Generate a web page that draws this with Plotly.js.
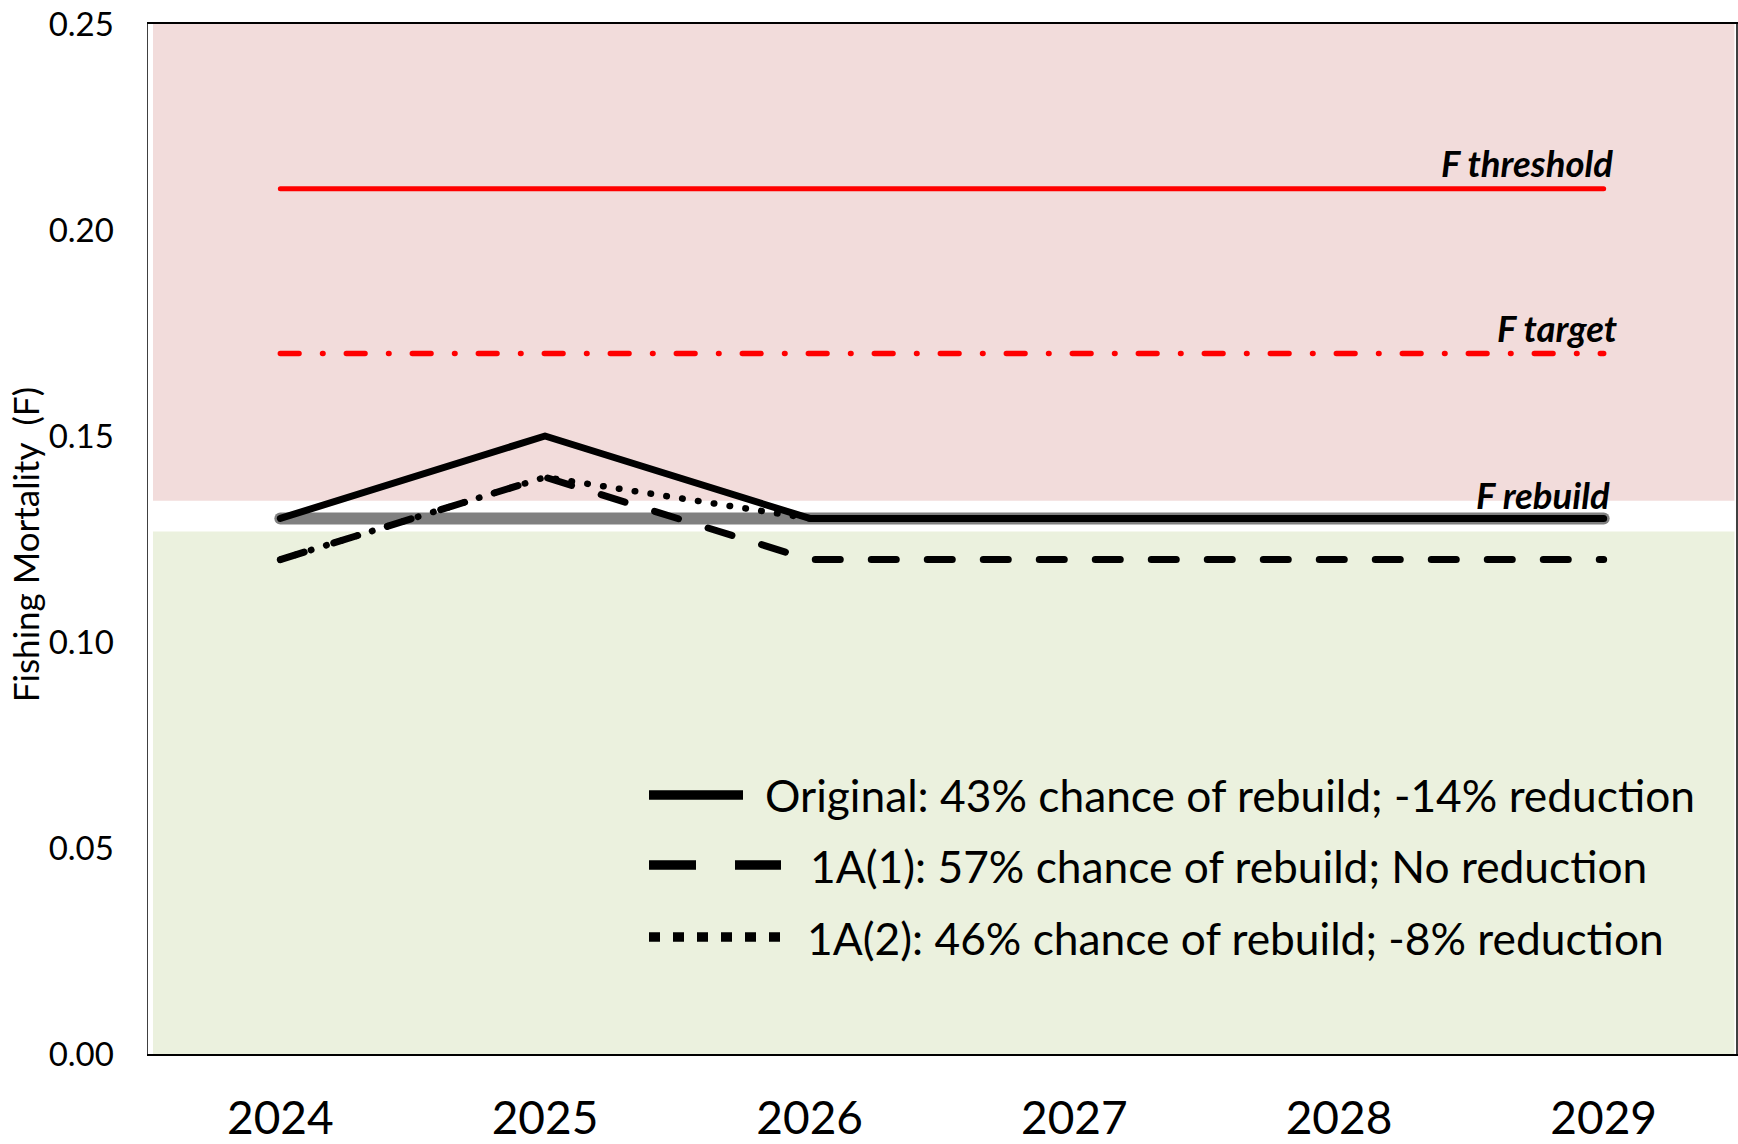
<!DOCTYPE html>
<html>
<head>
<meta charset="utf-8">
<script src="https://cdn.plot.ly/plotly-3.0.1.min.js"></script>
<style>
html,body{margin:0;padding:0;background:#ffffff;}
#chart{width:1738px;height:1144px;}
.scatterlayer .js-line{stroke-linecap:round !important;stroke-linejoin:round !important;}
</style>
</head>
<body>
<div id="chart"></div>
<script>
// ---- data ----
const years = ["2024", "2025", "2026", "2027", "2028", "2029"];
const original = [0.13, 0.15, 0.13, 0.13, 0.13, 0.13];
const alt1A1 = [0.12, 0.14, 0.12, 0.12, 0.12, 0.12];
const alt1A2 = [0.12, 0.14, 0.13, 0.13, 0.13, 0.13];
const fThreshold = [0.21, 0.21, 0.21, 0.21, 0.21, 0.21];
const fTarget = [0.17, 0.17, 0.17, 0.17, 0.17, 0.17];
const fRebuild = [0.13, 0.13, 0.13, 0.13, 0.13, 0.13];
const seriesNames = [
  "Original: 43% chance of rebuild; -14% reduction",
  "1A(1): 57% chance of rebuild; No reduction",
  "1A(2): 46% chance of rebuild; -8% reduction"
];
const refLabels = ["F threshold", "F target", "F rebuild"];
const overZone = [0.1343, 0.25];   // shaded band above F rebuild
const safeZone = [0, 0.1268];      // shaded band below F rebuild
const yTitle = "Fishing Mortality  (F)";

// ---- traces ----
const FONT = "Lato, 'Open Sans', sans-serif";
const traces = [
  {x: years, y: fRebuild, mode: "lines", line: {color: "#808080", width: 12}, hoverinfo: "skip"},
  {x: years, y: fThreshold, mode: "lines", line: {color: "#ff0000", width: 5}, name: refLabels[0]},
  {x: years, y: fTarget, mode: "lines", line: {color: "#ff0000", width: 5.5, dash: "18.7px,23.5px,0.5px,23.3px"}, name: refLabels[1]},
  {x: years, y: alt1A1, mode: "lines", line: {color: "#000000", width: 7, dash: "25px,31px"}, name: seriesNames[1]},
  {x: years, y: alt1A2, mode: "lines", line: {color: "#000000", width: 6.5, dash: "0.5px,15.5px"}, name: seriesNames[2]},
  {x: years, y: original, mode: "lines", line: {color: "#000000", width: 7}, name: seriesNames[0]}
];

// ---- layout helpers ----
const L = 148, T = 24, W = 1588, H = 1030;
const px2x = p => (p - L) / W;
const px2y = p => (T + H - p) / H;

const shapes = [
  {type: "rect", xref: "paper", yref: "y", x0: px2x(153), x1: 0.999, y0: overZone[0], y1: overZone[1],
   fillcolor: "#F2DCDB", line: {width: 0}, layer: "below"},
  {type: "rect", xref: "paper", yref: "y", x0: px2x(153), x1: 0.999, y0: safeZone[0], y1: safeZone[1],
   fillcolor: "#EBF1DE", line: {width: 0}, layer: "below"}
];

// manual legend (long line samples as in the original)
const legendRows = [
  {name: seriesNames[0], x1: 743, y: 795, tx: 763, dash: "solid"},
  {name: seriesNames[1], x1: 781, y: 865, tx: 808, dash: "47px,39px"},
  {name: seriesNames[2], x1: 781, y: 937, tx: 805, dash: "11px,13px"}
];
const annotations = [];
legendRows.forEach(r => {
  shapes.push({type: "line", xref: "paper", yref: "paper", x0: px2x(649), x1: px2x(r.x1), y0: px2y(r.y), y1: px2y(r.y),
    line: {color: "#000000", width: 9.5, dash: r.dash}});
  annotations.push({xref: "paper", yref: "paper", x: px2x(r.tx), y: px2y(r.y), xanchor: "left", yanchor: "middle",
    text: r.name, showarrow: false, font: {family: FONT, size: 44.3, color: "#000000"}});
});

// reference line labels (anchored at the last year's value)
const refVals = [fThreshold[5], fTarget[5], fRebuild[5]];
const refShift = [[11, 26], [15, 26], [8, 23]];
refLabels.forEach((t, i) => {
  annotations.push({xref: "x", yref: "y", x: years.length - 1, y: refVals[i], xanchor: "right", yanchor: "middle",
    xshift: refShift[i][0], yshift: refShift[i][1],
    text: "<b><i>" + t + "</i></b>", showarrow: false, font: {family: FONT, size: 36.5, color: "#000000"}});
});

// y title (overlaps tick labels like the original)
annotations.push({xref: "paper", yref: "paper", x: 0, xshift: -123, y: 0.494, textangle: -90,
  xanchor: "center", yanchor: "middle", text: yTitle, showarrow: false,
  font: {family: FONT, size: 35, color: "#000000"}});

const layout = {
  width: 1738, height: 1144,
  margin: {l: L, r: 1738 - L - W, t: T, b: 1144 - T - H},
  paper_bgcolor: "#ffffff", plot_bgcolor: "#ffffff",
  showlegend: false,
  xaxis: {type: "category", range: [-0.5, 5.5], showgrid: false, zeroline: false,
    showline: true, linecolor: "#000000", linewidth: 2, mirror: true,
    ticks: "outside", ticklen: 23, tickcolor: "rgba(0,0,0,0)",
    tickfont: {family: FONT, size: 46, color: "#000000"}},
  yaxis: {range: [0, 0.25], dtick: 0.05, tickformat: ".2f", showgrid: false, zeroline: false,
    showline: true, linecolor: "#404040", linewidth: 1.5, mirror: true,
    ticks: "outside", ticklen: 26, tickcolor: "rgba(0,0,0,0)",
    tickfont: {family: FONT, size: 33, color: "#000000"}},
  shapes: shapes,
  annotations: annotations
};

Plotly.newPlot("chart", traces, layout, {displayModeBar: false, staticPlot: true});
</script>
</body>
</html>
